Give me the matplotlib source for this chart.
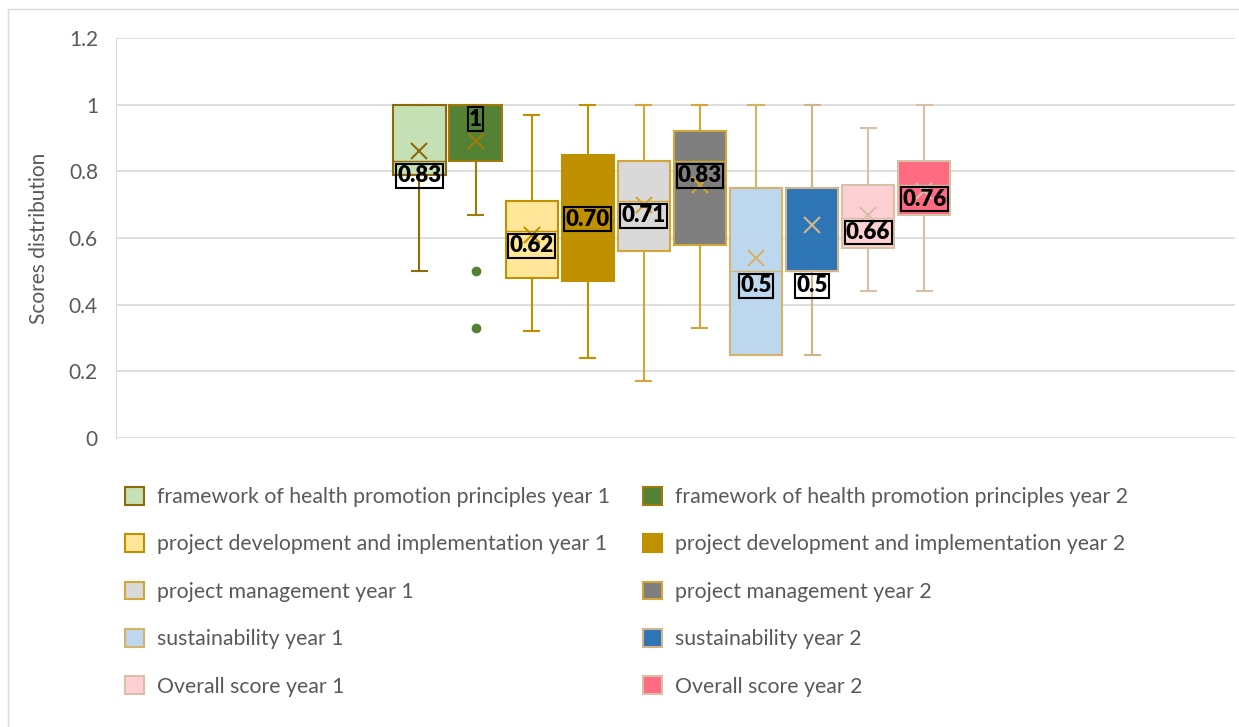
import matplotlib
matplotlib.use("Agg")
import matplotlib.pyplot as plt
from matplotlib.patches import Patch, Rectangle

plt.rcParams['font.family'] = ['Lato', 'DejaVu Sans']

# series names (year 1 / year 2 alternate)
names = [
    "framework of health promotion principles year 1",
    "framework of health promotion principles year 2",
    "project development and implementation year 1",
    "project development and implementation year 2",
    "project management year 1",
    "project management year 2",
    "sustainability year 1",
    "sustainability year 2",
    "Overall score year 1",
    "Overall score year 2",
]

# box statistics
q1 = [0.79, 0.83, 0.48, 0.47, 0.56, 0.58, 0.25, 0.50, 0.57, 0.67]
med = [0.83, 1.00, 0.62, 0.70, 0.71, 0.83, 0.50, 0.50, 0.66, 0.76]
q3 = [1.00, 1.00, 0.71, 0.85, 0.83, 0.92, 0.75, 0.75, 0.76, 0.83]
whislo = [0.50, 0.67, 0.32, 0.24, 0.17, 0.33, 0.25, 0.25, 0.44, 0.44]
whishi = [1.00, 1.00, 0.97, 1.00, 1.00, 1.00, 1.00, 1.00, 0.93, 1.00]
means = [0.86, 0.89, 0.61, 0.66, 0.70, 0.76, 0.54, 0.64, 0.67, 0.74]
fliers = [[], [0.50, 0.33], [], [], [], [], [], [], [], []]
labels = ["0.83", "1", "0.62", "0.70", "0.71", "0.83", "0.5", "0.5", "0.66", "0.76"]

fills = ["#C5E0B4", "#548235", "#FFE699", "#BF9000", "#D9D9D9",
         "#7F7F7F", "#BDD7EE", "#2E75B6", "#FFD0D3", "#FF6B81"]
edges = ["#8C6B08", "#9E7B0B", "#BF9000", "#BF9000", "#D4A537",
         "#D4A537", "#D6B36A", "#D2B48C", "#D6C0A6", "#D6C0A6"]

fig = plt.figure(figsize=(12.39, 7.27), dpi=100)
ax = fig.add_axes([116 / 1239, 1 - 438 / 727, 1119 / 1239, 400 / 727])

for i in range(len(names)):
    st = dict(label=names[i], q1=q1[i], med=med[i], q3=q3[i],
              whislo=whislo[i], whishi=whishi[i], mean=means[i],
              fliers=fliers[i])
    ax.bxp([st], positions=[i], widths=0.93, capwidths=[0.27],
           showmeans=True, patch_artist=True,
           boxprops=dict(facecolor=fills[i], edgecolor=edges[i], lw=1.5),
           whiskerprops=dict(color=edges[i], lw=1.5),
           capprops=dict(color=edges[i], lw=1.5),
           medianprops=dict(color=edges[i], lw=1),
           meanprops=dict(marker='x', markeredgecolor=edges[i],
                          markersize=11.5, mew=1.5),
           flierprops=dict(marker='o', markerfacecolor='#548235',
                           markeredgecolor='#548235', markersize=6))
    ax.annotate(labels[i], xy=(i, med[i]), xytext=(0, -10.5),
                textcoords='offset points', ha='center', va='center',
                fontsize=16, fontweight='heavy', color='black', zorder=5,
                bbox=dict(boxstyle='square,pad=0.06', fc='none',
                          ec='black', lw=1.5))

ax.set_xlim(-5.41, 14.54)
ax.set_ylim(0, 1.2)
ax.set_yticks([0, 0.2, 0.4, 0.6, 0.8, 1.0, 1.2])
ax.set_yticklabels(["0", "0.2", "0.4", "0.6", "0.8", "1", "1.2"])
ax.set_xticks([])
ax.tick_params(axis='y', length=0, pad=13, labelsize=15, labelcolor='#595959')
ax.grid(axis='y', color='#D9D9D9', lw=1.2)
ax.set_axisbelow(True)
for s in ['top', 'right', 'bottom']:
    ax.spines[s].set_visible(False)
ax.spines['left'].set_color('#D9D9D9')
ax.set_ylabel("Scores distribution", fontsize=15, color='#595959', labelpad=14)

# legend, two columns
handles = [Patch(facecolor=fills[i], edgecolor=edges[i], lw=1.5)
           for i in range(len(names))]
legkw = dict(loc='upper left', frameon=False, borderpad=0, borderaxespad=0,
             handlelength=0.9, handleheight=0.9, handletextpad=0.62,
             labelspacing=1.28, fontsize=15.3, labelcolor='#595959')
fig.legend(handles[0::2], names[0::2],
           bbox_to_anchor=(125 / 1239, 1 - 487 / 727), **legkw)
fig.legend(handles[1::2], names[1::2],
           bbox_to_anchor=(643 / 1239, 1 - 487 / 727), **legkw)

# chart area border
fig.patches.append(Rectangle((8 / 1239, -0.05), 1.1, 1.05 - 9 / 727,
                             transform=fig.transFigure, fill=False,
                             ec='#D9D9D9', lw=1))

fig.savefig("out.png", dpi=100)
